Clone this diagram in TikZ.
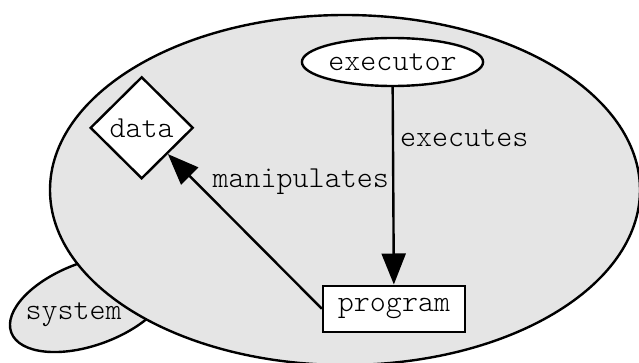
\documentclass[tikz,border=0pt]{standalone}
\usepackage{fontspec}
\setmonofont{Latin Modern Mono Light}
\usetikzlibrary{shapes.geometric,arrows.meta}
\definecolor{regionfill}{RGB}{229,229,229}
\begin{document}
\begin{tikzpicture}[x=1pt,y=1pt,
  outline/.style={draw=black,line width=2.4pt},
  region/.style={outline,fill=regionfill},
  lbl/.style={font=\fontsize{30.5}{34}\selectfont\ttfamily,inner sep=0pt},
  ovalnode/.style={lbl,outline,fill=white,ellipse,minimum width=153pt,minimum height=48pt},
  boxnode/.style={lbl,outline,fill=white,rectangle,minimum width=142pt,minimum height=46pt},
  diamondnode/.style={lbl,outline,fill=white,diamond,minimum width=103pt,minimum height=102pt},
  edge/.style={line width=2.4pt,-{Triangle[length=31pt,width=24pt]}}]
\useasboundingbox (0,0) rectangle (639,362);
% outer regions
\draw[region,rotate around={20.2:(90,58.5)}] (90,58.5) ellipse [x radius=83.9,y radius=41.5];
\draw[region] (345,172) ellipse [x radius=295,y radius=175];
\node[lbl] (system) at (73.7,47) {system};
% nodes
\node[ovalnode] (executor) at (392.5,300) {executor};
\node[boxnode] (program) at (394,53.3) {program};
\node[diamondnode] (data) at (141.7,234.2) {data};
% edges
\draw[edge] (executor) -- (program);
\draw[edge] (program.west) -- (data);
\node[lbl,anchor=west] (executes) at (400,224) {executes};
\node[lbl,anchor=east] (manipulates) at (389,180) {manipulates};
\end{tikzpicture}
\end{document}
